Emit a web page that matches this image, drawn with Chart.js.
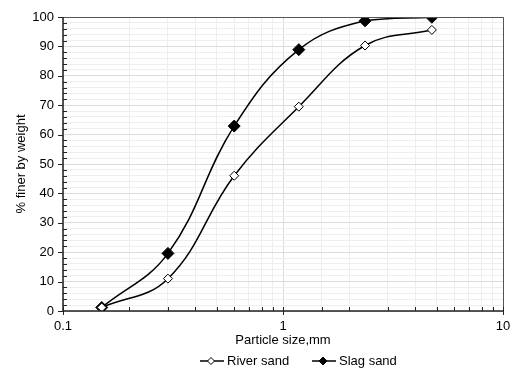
<!DOCTYPE html>
<html lang="en">
<head>
  <meta charset="UTF-8">
  <title>Particle size distribution</title>
  <script src="https://cdn.jsdelivr.net/npm/chart.js"></script>
  <style>
    body { margin: 0; padding: 0; background: #fff; }
    #wrap { width: 512px; height: 370px; }
  </style>
</head>
<body>
<div id="wrap"><canvas id="psd" width="512" height="370"></canvas></div>
<script>
  // sieve sizes (mm) and % passing
  const sieveSizes = [0.15, 0.3, 0.6, 1.18, 2.36, 4.75];
  const riverSand = [1.2, 11, 46, 69.5, 90.3, 95.6];
  const slagSand = [1.2, 19.6, 62.9, 88.9, 98.7, 99.9];
  const seriesNames = ['River sand', 'Slag sand'];
  const xLabels = [0.1, 1, 10];

  const font = "'Liberation Sans', Arial, sans-serif";

  function toPoints(vals) {
    return sieveSizes.map((x, i) => ({ x: x, y: vals[i] }));
  }

  function isDecade(v) {
    const l = Math.log10(v);
    return Math.abs(l - Math.round(l)) < 1e-6;
  }

  // axis lines, tick marks, frame and legend
  const frame = {
    id: 'frame',
    afterDraw(chart) {
      const c = chart.ctx;
      const a = chart.chartArea;
      const xs = chart.scales.x, ys = chart.scales.y;
      c.save();
      c.strokeStyle = '#555';
      c.lineWidth = 1;
      c.beginPath();
      c.moveTo(a.left, a.top + 0.5); c.lineTo(a.right + 0.5, a.top + 0.5);
      c.lineTo(a.right + 0.5, a.bottom);
      c.stroke();

      c.strokeStyle = '#222';
      c.lineWidth = 1.5;
      c.beginPath();
      c.moveTo(a.left, a.top); c.lineTo(a.left, a.bottom); c.lineTo(a.right, a.bottom);
      c.stroke();

      c.lineWidth = 1;
      c.beginPath();
      for (let v = 0; v <= 100; v += 2) {
        const py = Math.round(ys.getPixelForValue(v)) + 0.5;
        if (v % 10 === 0) { c.moveTo(a.left - 5, py); c.lineTo(a.left, py); }
        else { c.moveTo(a.left, py); c.lineTo(a.left + 4, py); }
      }
      xs.ticks.forEach(t => {
        const px = Math.round(xs.getPixelForValue(t.value)) + 0.5;
        if (isDecade(t.value)) { c.moveTo(px, a.bottom - 4); c.lineTo(px, a.bottom + 4); }
        else { c.moveTo(px, a.bottom - 4); c.lineTo(px, a.bottom); }
      });
      c.stroke();

      // legend
      const ly = 361;
      const items = [
        { x: 200, fill: '#fff', r: 3.5, name: seriesNames[0] },
        { x: 312, fill: '#000', r: 4, name: seriesNames[1] }
      ];
      c.font = '13px ' + font;
      c.textBaseline = 'middle';
      items.forEach(it => {
        c.strokeStyle = '#000';
        c.lineWidth = 1.5;
        c.beginPath(); c.moveTo(it.x, ly); c.lineTo(it.x + 24, ly); c.stroke();
        const cx = it.x + 11;
        c.beginPath();
        c.moveTo(cx, ly - it.r); c.lineTo(cx + it.r, ly); c.lineTo(cx, ly + it.r); c.lineTo(cx - it.r, ly);
        c.closePath();
        c.fillStyle = it.fill; c.fill();
        c.lineWidth = 1; c.stroke();
        c.fillStyle = '#000';
        c.fillText(it.name, it.x + 27, ly);
      });
      c.restore();
    }
  };

  const ctx = document.getElementById('psd').getContext('2d');
  new Chart(ctx, {
    type: 'scatter',
    data: {
      datasets: [{
        label: seriesNames[0],
        data: toPoints(riverSand),
        showLine: true,
        borderColor: '#000',
        borderWidth: 1.5,
        tension: 0.4,
        pointStyle: 'rectRot',
        pointRadius: 4.5,
        pointBackgroundColor: '#fff',
        pointBorderColor: '#000',
        pointBorderWidth: 1
      }, {
        label: seriesNames[1],
        data: toPoints(slagSand),
        showLine: true,
        borderColor: '#000',
        borderWidth: 1.5,
        tension: 0.4,
        pointStyle: 'rectRot',
        pointRadius: 6,
        pointBackgroundColor: '#000',
        pointBorderColor: '#000',
        pointBorderWidth: 1
      }]
    },
    options: {
      responsive: false,
      animation: false,
      layout: { padding: { left: 0, right: 9, top: 17, bottom: 22 } },
      plugins: { legend: { display: false }, tooltip: { enabled: false } },
      scales: {
        x: {
          type: 'logarithmic',
          min: 0.1,
          max: 10,
          afterFit(s) { s.height = 37; s.paddingLeft = 0; s.paddingRight = 0; },
          border: { display: false },
          grid: {
            drawTicks: false,
            color: c => (c.tick && isDecade(c.tick.value)) ? '#dcdcdc' : '#eeeeee'
          },
          ticks: {
            autoSkip: false,
            maxRotation: 0,
            padding: 8,
            color: '#000',
            font: { family: font, size: 13 },
            callback: v => xLabels.some(d => Math.abs(d - v) < 1e-9) ? String(v) : ''
          },
          title: {
            display: true,
            text: 'Particle size,mm',
            color: '#000',
            font: { family: font, size: 13 },
            padding: { top: 0, bottom: 0 }
          }
        },
        y: {
          min: 0,
          max: 100,
          afterFit(s) { s.width = 63; s.paddingTop = 0; s.paddingBottom = 0; },
          border: { display: false },
          grid: {
            drawTicks: false,
            color: c => (c.tick && c.tick.value % 10 === 0) ? '#dcdcdc' : '#eeeeee'
          },
          ticks: {
            stepSize: 2,
            autoSkip: false,
            padding: 9,
            color: '#000',
            font: { family: font, size: 13 },
            callback: v => v % 10 === 0 ? v : ''
          },
          title: {
            display: true,
            text: '% finer by weight',
            color: '#000',
            font: { family: font, size: 13 },
            padding: { top: 14, bottom: 2 }
          }
        }
      }
    },
    plugins: [frame]
  });
</script>
</body>
</html>
